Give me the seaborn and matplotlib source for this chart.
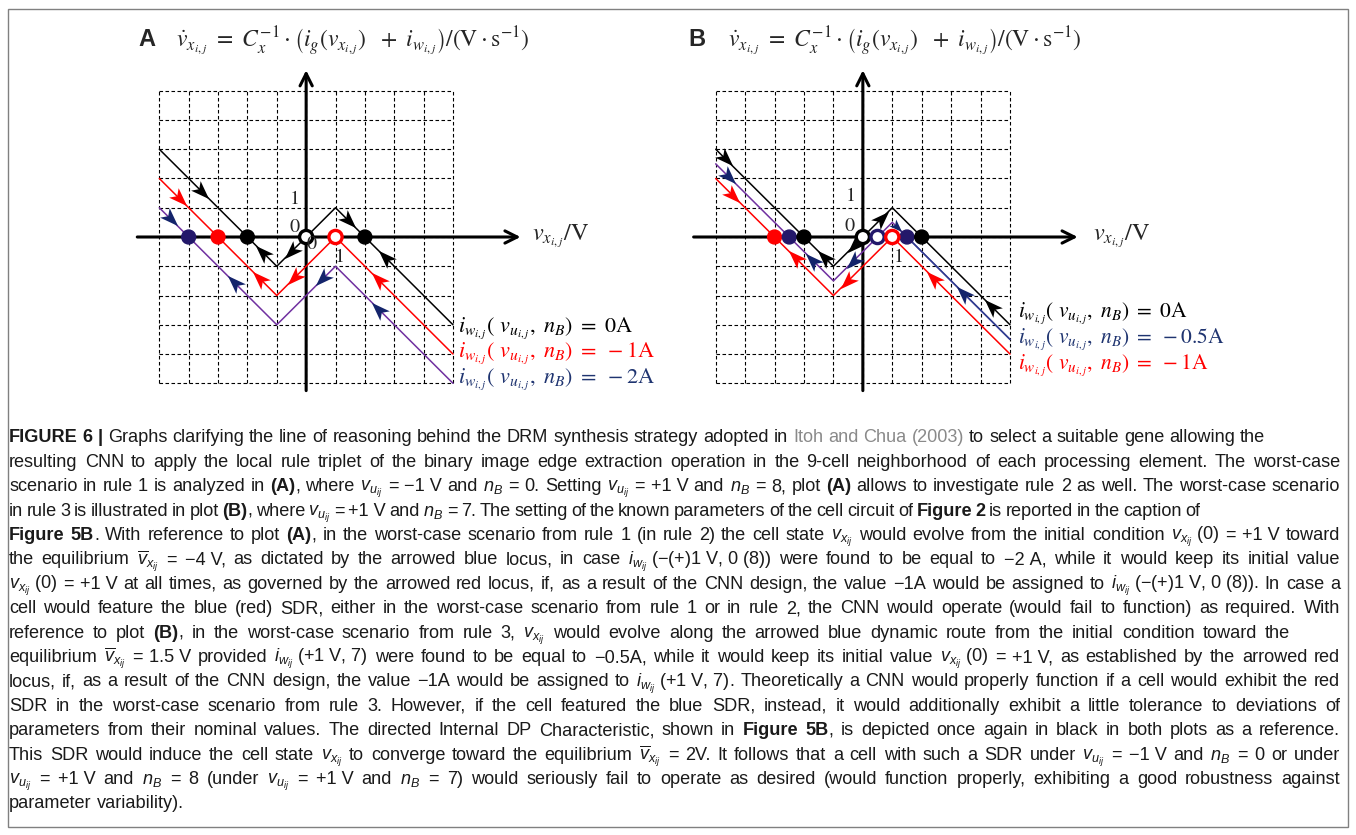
import numpy as np
import pandas as pd
import matplotlib
matplotlib.use("Agg")
import matplotlib.pyplot as plt
import seaborn as sns
from matplotlib.markers import MarkerStyle
from matplotlib.path import Path
from matplotlib.transforms import Affine2D
from matplotlib.patches import Rectangle
from matplotlib import font_manager as fm

# ---------------------------------------------------------------- data
# piecewise-linear loci (vertices in V on x, A on y)
locus_v = [-5, -1, 1, 5]
black_i = [3, -1, 1, -3]          # directed internal DP characteristic
a_red_i = [2, -2, 0, -4]          # i_w = -1 A
a_blue_i = [1, -3, -1, -5]        # i_w = -2 A
b_blue_i = [2.5, -1.5, 0.5, -3.5] # i_w = -0.5 A
b_red_i = [2, -2, 0, -4]          # i_w = -1 A

# equilibria (v values) : stable (filled) / unstable (open)
a_stable_v = [-4, -3, -2, 2]
a_stable_c = ["navy", "red", "black", "black"]
a_unstable_v = [0, 1]
a_unstable_c = ["black", "red"]
b_stable_v = [-3, -2.5, -2, 1.5, 2]
b_stable_c = ["red", "navy", "black", "navy", "black"]
b_unstable_v = [0, 0.5, 1]
b_unstable_c = ["black", "navy", "red"]

# flow arrows: (locus, v position, direction)
a_arrows = [("black", -3.55, "dr"), ("black", -1.5, "ul"), ("black", -0.5, "dl"),
            ("black", 1.45, "dr"), ("black", 2.7, "ul"),
            ("red", -4.3, "dr"), ("red", -1.6, "ul"), ("red", -0.4, "dl"), ("red", 2.45, "ul"),
            ("blue", -4.6, "dr"), ("blue", -2.45, "ul"), ("blue", 0.55, "dl"), ("blue", 2.45, "ul")]
b_arrows = [("black", -4.65, "dr"), ("black", -1.33, "ul"), ("black", -0.3, "dl"),
            ("black", 0.66, "ur"), ("black", 4.35, "ul"),
            ("blue", -4.55, "dr"), ("blue", -1.72, "ul"), ("blue", -0.35, "dl"),
            ("blue", 1.17, "dr"), ("blue", 3.4, "ul"),
            ("red", -4.4, "dr"), ("red", -2.3, "ul"), ("red", -0.53, "dl"), ("red", 2.4, "ul")]

a_legend = [r"$i_{w_{i,j}}(\ v_{u_{i,j}},\ n_B)\ =\ 0\mathrm{A}$",
            r"$i_{w_{i,j}}(\ v_{u_{i,j}},\ n_B)\ =\ -1\mathrm{A}$",
            r"$i_{w_{i,j}}(\ v_{u_{i,j}},\ n_B)\ =\ -2\mathrm{A}$"]
b_legend = [r"$i_{w_{i,j}}(\ v_{u_{i,j}},\ n_B)\ =\ 0\mathrm{A}$",
            r"$i_{w_{i,j}}(\ v_{u_{i,j}},\ n_B)\ =\ -0.5\mathrm{A}$",
            r"$i_{w_{i,j}}(\ v_{u_{i,j}},\ n_B)\ =\ -1\mathrm{A}$"]

title_eq = (r"$\dot{v}_{x_{i,j}}\ =\ C_x^{-1}\cdot\left(i_g(v_{x_{i,j}})\ \ +\ i_{w_{i,j}}\right)"
            r"/(\mathrm{V}\cdot\mathrm{s}^{-1})$")
xlabel_eq = r"$v_{x_{i,j}}/\mathrm{V}$"

# caption: list of lines, each a list of (text, style) runs
NB = "\u00a0"
vu = r"$v_{u_{ij}}$"
vx = r"$v_{x_{ij}}$"
vbar = r"$\overline{v}_{x_{ij}}$"
iw = r"$i_{w_{ij}}$"
nb = r"$n_B$"
caption = [
    [("FIGURE 6 |", "b"), (" Graphs clarifying the line of reasoning behind the DRM synthesis strategy adopted in ", "n"),
     ("Itoh and Chua (2003)", "g"), (" to select a suitable gene allowing the", "n")],
    [("resulting CNN to apply the local rule triplet of the binary image edge extraction operation in the 9-cell neighborhood of each processing element. The worst-case", "n")],
    [("scenario in rule 1 is analyzed in ", "n"), ("(A)", "b"),
     (f", where {vu} = −1{NB}V and {nb} = 0. Setting {vu} = +1{NB}V and {nb} = 8, plot ", "n"), ("(A)", "b"),
     (" allows to investigate rule 2 as well. The worst-case scenario", "n")],
    [("in rule 3 is illustrated in plot ", "n"), ("(B)", "b"),
     (f", where {vu} = +1{NB}V and {nb} = 7. The setting of the known parameters of the cell circuit of ", "n"),
     ("Figure 2", "b"), (" is reported in the caption of", "n")],
    [("Figure 5B", "b"), (". With reference to plot ", "n"), ("(A)", "b"),
     (f", in the worst-case scenario from rule 1 (in rule 2) the cell state {vx} would evolve from the initial condition {vx}{NB}(0) = +1{NB}V toward", "n")],
    [(f"the equilibrium {vbar} = −4{NB}V, as dictated by the arrowed blue locus, in case {iw}{NB}(−(+)1{NB}V,{NB}0{NB}(8)) were found to be equal to −2{NB}A, while it would keep its initial value", "n")],
    [(f"{vx}{NB}(0) = +1{NB}V at all times, as governed by the arrowed red locus, if, as a result of the CNN design, the value −1A would be assigned to {iw}{NB}(−(+)1{NB}V,{NB}0{NB}(8)). In case a", "n")],
    [("cell would feature the blue (red) SDR, either in the worst-case scenario from rule 1 or in rule 2, the CNN would operate (would fail to function) as required. With", "n")],
    [("reference to plot ", "n"), ("(B)", "b"),
     (f", in the worst-case scenario from rule 3, {vx} would evolve along the arrowed blue dynamic route from the initial condition toward the", "n")],
    [(f"equilibrium {vbar} = 1.5{NB}V provided {iw}{NB}(+1{NB}V,{NB}7) were found to be equal to −0.5A, while it would keep its initial value {vx}{NB}(0) = +1{NB}V, as established by the arrowed red", "n")],
    [(f"locus, if, as a result of the CNN design, the value −1A would be assigned to {iw}{NB}(+1{NB}V,{NB}7). Theoretically a CNN would properly function if a cell would exhibit the red", "n")],
    [("SDR in the worst-case scenario from rule 3. However, if the cell featured the blue SDR, instead, it would additionally exhibit a little tolerance to deviations of", "n")],
    [("parameters from their nominal values. The directed Internal DP Characteristic, shown in ", "n"), ("Figure 5B", "b"),
     (", is depicted once again in black in both plots as a reference.", "n")],
    [(f"This SDR would induce the cell state {vx} to converge toward the equilibrium {vbar} = 2V. It follows that a cell with such a SDR under {vu} = −1{NB}V and {nb} = 0 or under", "n")],
    [(f"{vu} = +1{NB}V and {nb} = 8 (under {vu} = +1{NB}V and {nb} = 7) would seriously fail to operate as desired (would function properly, exhibiting a good robustness against", "n")],
    [("parameter variability).", "n")],
]
caption_right = [1265, 1340, 1340, 1200, 1340, 1340, 1340, 1340, 1290,
                 1340, 1340, 1340, 1340, 1340, 1340, None]

# ---------------------------------------------------------------- style
sns.set_theme(style="white")
W, H = 1356, 835


def has_font(name):
    try:
        fm.findfont(fm.FontProperties(family=name), fallback_to_default=False)
        return True
    except Exception:
        return False


CAP_FONT = "Liberation Sans Narrow" if has_font("Liberation Sans Narrow") else "Liberation Sans"
plt.rcParams["font.family"] = ["Liberation Sans", "DejaVu Sans"]
plt.rcParams["mathtext.fontset"] = "custom"
plt.rcParams["mathtext.rm"] = CAP_FONT
plt.rcParams["mathtext.it"] = CAP_FONT + ":italic"
plt.rcParams["mathtext.bf"] = CAP_FONT + ":bold"

COL = {"black": "black", "red": "#ff0000", "blue": "#7030a0", "navy": "#23186a"}
ARROW_COL = {"black": "black", "red": "#ff0000", "blue": "#14246b"}
LEG_COL = ["black", "#ff0000", "#1f3470"]
LEG_COL_B = ["black", "#1f3470", "#ff0000"]
ANGLE = {"dr": -45, "ul": 135, "dl": -135, "ur": 45}

# stealth-shaped arrowhead pointing along +x
head_path = Path([(1.0, 0.0), (-1.0, 0.72), (-0.5, 0.0), (-1.0, -0.72), (1.0, 0.0)],
                 [Path.MOVETO, Path.LINETO, Path.LINETO, Path.LINETO, Path.CLOSEPOLY])

fig = plt.figure(figsize=(W / 100, H / 100), dpi=100)
fig.patch.set_facecolor("white")
renderer = fig.canvas.get_renderer()


def px(x, y):
    return x / W, 1 - y / H


def make_axes(x0, x1, y0, y1):
    ax = fig.add_axes([x0 / W, 1 - y1 / H, (x1 - x0) / W, (y1 - y0) / H])
    ax.set_xlim(-5, 5)
    ax.set_ylim(-5, 5)
    ax.axis("off")
    return ax


def draw_panel(ax, loci, stable, unstable, arrows, labels_lo):
    ticks = np.arange(-5, 6)
    ax.vlines(ticks, -5, 5, colors="black", linestyles=(0, (3.2, 2.2)), lw=0.8, clip_on=False)
    ax.hlines(ticks, -5, 5, colors="black", linestyles=(0, (3.2, 2.2)), lw=0.8, clip_on=False)
    # coordinate axes with arrowheads
    ax.annotate("", xy=(7.3, 0), xytext=(-5.75, 0), annotation_clip=False,
                arrowprops=dict(arrowstyle="->", lw=2.2, color="black", mutation_scale=22,
                                shrinkA=0, shrinkB=0))
    ax.annotate("", xy=(0, 5.7), xytext=(0, -5.25), annotation_clip=False,
                arrowprops=dict(arrowstyle="->", lw=2.2, color="black", mutation_scale=22,
                                shrinkA=0, shrinkB=0))
    curves = {}
    for name, ivals, col in loci:
        df = pd.DataFrame({"v": locus_v, "i": ivals})
        sns.lineplot(data=df, x="v", y="i", ax=ax, color=col, lw=1.1, sort=False,
                     estimator=None, clip_on=False, zorder=3)
        curves[name] = ivals
    # flow arrowheads on the loci
    for name, v, d in arrows:
        i = np.interp(v, locus_v, curves[name])
        m = MarkerStyle(head_path, transform=Affine2D().rotate_deg(ANGLE[d]))
        size = 180 if not (name == "blue" and v == 1.17) else 90
        ax.scatter([v], [i], marker=m, s=size, color=ARROW_COL[name], lw=0, zorder=5, clip_on=False)
    # equilibria
    sv, sc = stable
    sns.scatterplot(x=sv, y=[0] * len(sv), ax=ax, hue=sv, palette=[COL[c] for c in sc],
                    s=100, edgecolor=[COL[c] for c in sc], linewidth=1.0, legend=False, zorder=6,
                    clip_on=False)
    uv, uc = unstable
    ax.scatter(uv, [0] * len(uv), s=90, facecolor="white", edgecolor=[COL[c] for c in uc],
               linewidth=2.4, zorder=6, clip_on=False)
    for (x, y, s) in labels_lo:
        ax.text(x, y, s, fontsize=14.5, fontfamily="STIXGeneral", ha="center", va="center",
                zorder=7)


# ---------------------------------------------------------------- panel A
axA = make_axes(159.3, 453, 90.7, 383.3)
draw_panel(axA,
           [("black", black_i, COL["black"]), ("red", a_red_i, COL["red"]), ("blue", a_blue_i, COL["blue"])],
           (a_stable_v, a_stable_c), (a_unstable_v, a_unstable_c), a_arrows,
           [(-0.38, 1.27, "1"), (-0.4, 0.32, "0"), (0.2, -0.26, "0"), (1.15, -0.7, "1")])

# ---------------------------------------------------------------- panel B
axB = make_axes(715.7, 1010, 90.7, 383.3)
draw_panel(axB,
           [("black", black_i, COL["black"]), ("blue", b_blue_i, COL["blue"]), ("red", b_red_i, COL["red"])],
           (b_stable_v, b_stable_c), (b_unstable_v, b_unstable_c), b_arrows,
           [(-0.42, 1.37, "1"), (-0.45, 0.36, "0"), (1.23, -0.7, "1")])
# right branch of the -0.5 A locus beyond its stable point
seg = pd.DataFrame({"v": [1.5, 5], "i": np.interp([1.5, 5], locus_v, b_blue_i)})
sns.lineplot(data=seg, x="v", y="i", ax=axB, color="#2b4190", lw=1.1, estimator=None,
             clip_on=False, zorder=3)

# ---------------------------------------------------------------- panel texts
for (lx, ex, tx) in [(138, 176, "A"), (688, 728, "B")]:
    fig.text(*px(lx, 39), tx, fontsize=17, fontweight="bold", fontfamily="Liberation Sans",
             ha="left", va="center")
    fig.text(*px(ex, 41), title_eq, fontsize=17, math_fontfamily="stix", ha="left", va="center")

fig.text(*px(532, 236), xlabel_eq, fontsize=17.5, math_fontfamily="stix", ha="left", va="center")
fig.text(*px(1093, 236), xlabel_eq, fontsize=17.5, math_fontfamily="stix", ha="left", va="center")

for k, (s, c) in enumerate(zip(a_legend, LEG_COL)):
    fig.text(*px(458, 328 + 25.5 * k), s, fontsize=16, color=c, math_fontfamily="stix",
             ha="left", va="center")
for k, (s, c) in enumerate(zip(b_legend, LEG_COL_B)):
    fig.text(*px(1018, 313 + 26 * k), s, fontsize=15.5, color=c, math_fontfamily="stix",
             ha="left", va="center")

# ---------------------------------------------------------------- caption


def split_words(runs):
    words = [[]]
    for text, style in runs:
        parts = text.split(" ")
        for k, part in enumerate(parts):
            if k > 0:
                words.append([])
            if part:
                words[-1].append((part, style))
    return [w for w in words if w]


def piece_kw(style, size):
    kw = dict(fontsize=size, fontfamily=CAP_FONT, va="baseline", ha="left", color="#1a1a1a")
    if style == "b":
        kw["fontweight"] = "bold"
    if style == "g":
        kw["color"] = "#8a8a8a"
    return kw


def measure(s, style, size):
    t = fig.text(0, 0, s, **piece_kw(style, size))
    w = t.get_window_extent(renderer).width
    t.remove()
    return w


def space_width(size):
    return measure("a" + NB + "a", "n", size) - measure("aa", "n", size)


LEFT = 9
# font size chosen so the first line sets naturally across its measured width
base = 12.0
words0 = split_words(caption[0])
nat0 = sum(measure(p, st, base) for w in words0 for p, st in w) + (len(words0) - 1) * space_width(base)
cap_size = base * (caption_right[0] - LEFT) / nat0

sp = space_width(cap_size)
y0, dy = 442.5, 24.4
for li, runs in enumerate(caption):
    words = split_words(runs)
    widths = [[measure(p, st, cap_size) for p, st in w] for w in words]
    total = sum(sum(w) for w in widths)
    right = caption_right[li]
    gap = sp if (right is None or len(words) < 2) else (right - LEFT - total) / (len(words) - 1)
    x = LEFT
    y = y0 + dy * li
    for w, ws in zip(words, widths):
        for (p, st), pw in zip(w, ws):
            fig.text(*px(x, y), p, **piece_kw(st, cap_size))
            x += pw
        x += gap

# page frame
fig.add_artist(Rectangle(px(8, 827), (1348 - 8) / W, (827 - 9) / H, fill=False,
                         ec="#808080", lw=1.0, transform=fig.transFigure))

fig.savefig("out.png", dpi=100)
